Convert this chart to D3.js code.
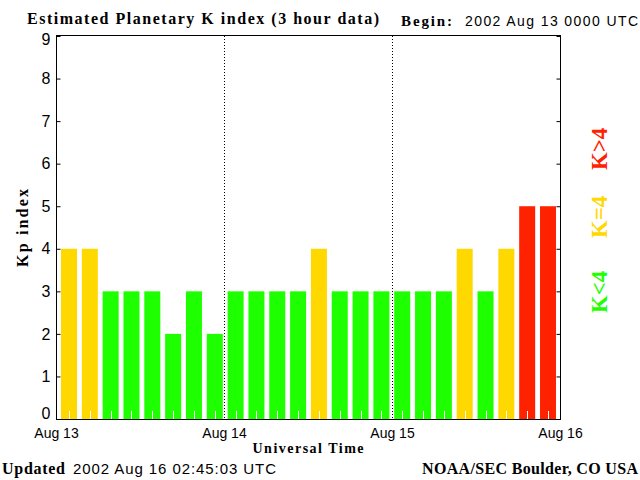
<!DOCTYPE html>
<html>
<head>
<meta charset="utf-8">
<script src="https://cdn.jsdelivr.net/npm/d3@7"></script>
<style>
  body { margin: 0; background: #fff; }
  .serif { font-family: "Liberation Serif", "DejaVu Serif", serif; font-weight: bold; }
  .sans { font-family: "Liberation Sans", "DejaVu Sans", sans-serif; }
</style>
</head>
<body>
<div id="chart"></div>
<script>
// 3 hour Kp values, Aug 13 00 UTC -> Aug 16 00 UTC
var kpValues = [4, 4, 3, 3, 3, 2, 3, 2,
                3, 3, 3, 3, 4, 3, 3, 3,
                3, 3, 3, 4, 3, 4, 5, 5];
var slotLabels = ["13/00","13/03","13/06","13/09","13/12","13/15","13/18","13/21",
                  "14/00","14/03","14/06","14/09","14/12","14/15","14/18","14/21",
                  "15/00","15/03","15/06","15/09","15/12","15/15","15/18","15/21"];
var dayLabels = ["Aug 13", "Aug 14", "Aug 15", "Aug 16"];
var kpTicks = [0, 1, 2, 3, 4, 5, 6, 7, 8, 9];
var legendItems = [
  {label: "K<4", color: "#1eff00", y: 292},
  {label: "K=4", color: "#ffd800", y: 217},
  {label: "K>4", color: "#ff2200", y: 149}
];

function kpColor(v) {
  if (v < 4) return "#1eff00";
  if (v == 4) return "#ffd800";
  return "#ff2200";
}

var W = 640, H = 480;
// plot box (window.top is read only, so no "top" here)
var plotL = 56, plotR = 560, plotT = 36, plotB = 419;

var svg = d3.select("#chart").append("svg")
    .attr("width", W)
    .attr("height", H);

// scales
var y = d3.scaleLinear().domain([0, 9]).range([plotB, plotT]);
var x = d3.scaleBand()
          .domain(slotLabels)
          .range([61, 556])
          .paddingInner(0.232)
          .paddingOuter(0);
var xDay = d3.scalePoint().domain(dayLabels).range([plotL, plotR]);

// bars
svg.selectAll(".bar")
    .data(kpValues)
    .enter().append("rect")
    .attr("class", "bar")
    .attr("x", function(d, i) { return x(slotLabels[i]); })
    .attr("y", function(d) { return y(d); })
    .attr("width", x.bandwidth())
    .attr("height", function(d) { return y(0) - y(d); })
    .attr("fill", function(d) { return kpColor(d); });

// white 3 hour ticks at bar centers
svg.selectAll(".hr")
    .data(slotLabels)
    .enter().append("line")
    .attr("x1", function(d) { return Math.round(x(d) + x.bandwidth() / 2) + 0.5; })
    .attr("x2", function(d) { return Math.round(x(d) + x.bandwidth() / 2) + 0.5; })
    .attr("y1", plotB - 8)
    .attr("y2", plotB)
    .attr("stroke", "#fff")
    .attr("stroke-width", 1);

// day dividers
svg.selectAll(".day")
    .data(dayLabels.slice(1, 3))
    .enter().append("line")
    .attr("x1", function(d) { return xDay(d) + 0.5; })
    .attr("x2", function(d) { return xDay(d) + 0.5; })
    .attr("y1", plotT)
    .attr("y2", plotB)
    .attr("stroke", "#000")
    .attr("stroke-width", 1)
    .attr("stroke-dasharray", "1,2");

// frame
svg.append("rect")
    .attr("x", plotL + 0.5)
    .attr("y", plotT - 0.5)
    .attr("width", plotR - plotL)
    .attr("height", plotB - plotT + 1)
    .attr("fill", "none")
    .attr("stroke", "#000")
    .attr("stroke-width", 1);

// Y axis
var yAxis = svg.append("g")
    .attr("class", "sans")
    .attr("transform", "translate(" + (plotL + 0.5) + ",0)")
    .call(d3.axisLeft(y).tickValues(kpTicks).tickSize(-4).tickPadding(6));
yAxis.select(".domain").remove();
yAxis.selectAll("text").attr("font-size", 16).attr("fill", "#000");
// end labels pulled inside a bit, like the original
yAxis.selectAll("text")
    .filter(function(d) { return d == 0; })
    .attr("dy", "-0.05em");
yAxis.selectAll("text")
    .filter(function(d) { return d == 9; })
    .attr("dy", "0.55em");

var yAxisR = svg.append("g")
    .attr("transform", "translate(" + (plotR + 0.5) + ",0)")
    .call(d3.axisRight(y).tickValues(kpTicks).tickSize(-4).tickFormat(""));
yAxisR.select(".domain").remove();

// X axis (day labels)
var xAxis = svg.append("g")
    .attr("class", "sans")
    .attr("transform", "translate(0," + plotB + ")")
    .call(d3.axisBottom(xDay).tickSize(0).tickPadding(9));
xAxis.select(".domain").remove();
xAxis.selectAll("text").attr("font-size", 14).attr("fill", "#000");

// axis titles
svg.append("text")
    .attr("class", "serif")
    .attr("x", 308).attr("y", 453)
    .attr("text-anchor", "middle")
    .attr("font-size", 14)
    .attr("textLength", 111)
    .text("Universal Time");

svg.append("text")
    .attr("class", "serif")
    .attr("transform", "translate(28,228) rotate(-90)")
    .attr("text-anchor", "middle")
    .attr("font-size", 16)
    .attr("textLength", 78)
    .text("Kp index");

// title and header
svg.append("text")
    .attr("class", "serif")
    .attr("x", 27).attr("y", 24)
    .attr("font-size", 16)
    .attr("font-weight", "normal")
    .attr("textLength", 352)
    .text("Estimated Planetary K index (3 hour data)");

svg.append("text")
    .attr("class", "serif")
    .attr("x", 401).attr("y", 26)
    .attr("font-size", 15)
    .attr("textLength", 51)
    .text("Begin:");

svg.append("text")
    .attr("class", "sans")
    .attr("x", 465).attr("y", 26)
    .attr("font-size", 14)
    .attr("textLength", 173)
    .text("2002 Aug 13 0000 UTC");

// footer
svg.append("text")
    .attr("class", "serif")
    .attr("x", 2).attr("y", 474)
    .attr("font-size", 16)
    .attr("textLength", 63)
    .text("Updated");

svg.append("text")
    .attr("class", "sans")
    .attr("x", 73).attr("y", 474)
    .attr("font-size", 15)
    .attr("textLength", 203)
    .text("2002 Aug 16 02:45:03 UTC");

svg.append("text")
    .attr("class", "serif")
    .attr("x", 638).attr("y", 474)
    .attr("text-anchor", "end")
    .attr("font-size", 16)
    .attr("font-weight", "normal")
    .attr("textLength", 216)
    .text("NOAA/SEC Boulder, CO USA");

// legend
svg.selectAll(".legend")
    .data(legendItems)
    .enter().append("text")
    .attr("class", "serif")
    .attr("transform", function(d) { return "translate(607," + d.y + ") rotate(-90)"; })
    .attr("text-anchor", "middle")
    .attr("font-size", 24)
    .attr("font-weight", "normal")
    .attr("fill", function(d) { return d.color; })
    .attr("textLength", 42)
    .attr("lengthAdjust", "spacingAndGlyphs")
    .text(function(d) { return d.label; });
</script>
</body>
</html>
